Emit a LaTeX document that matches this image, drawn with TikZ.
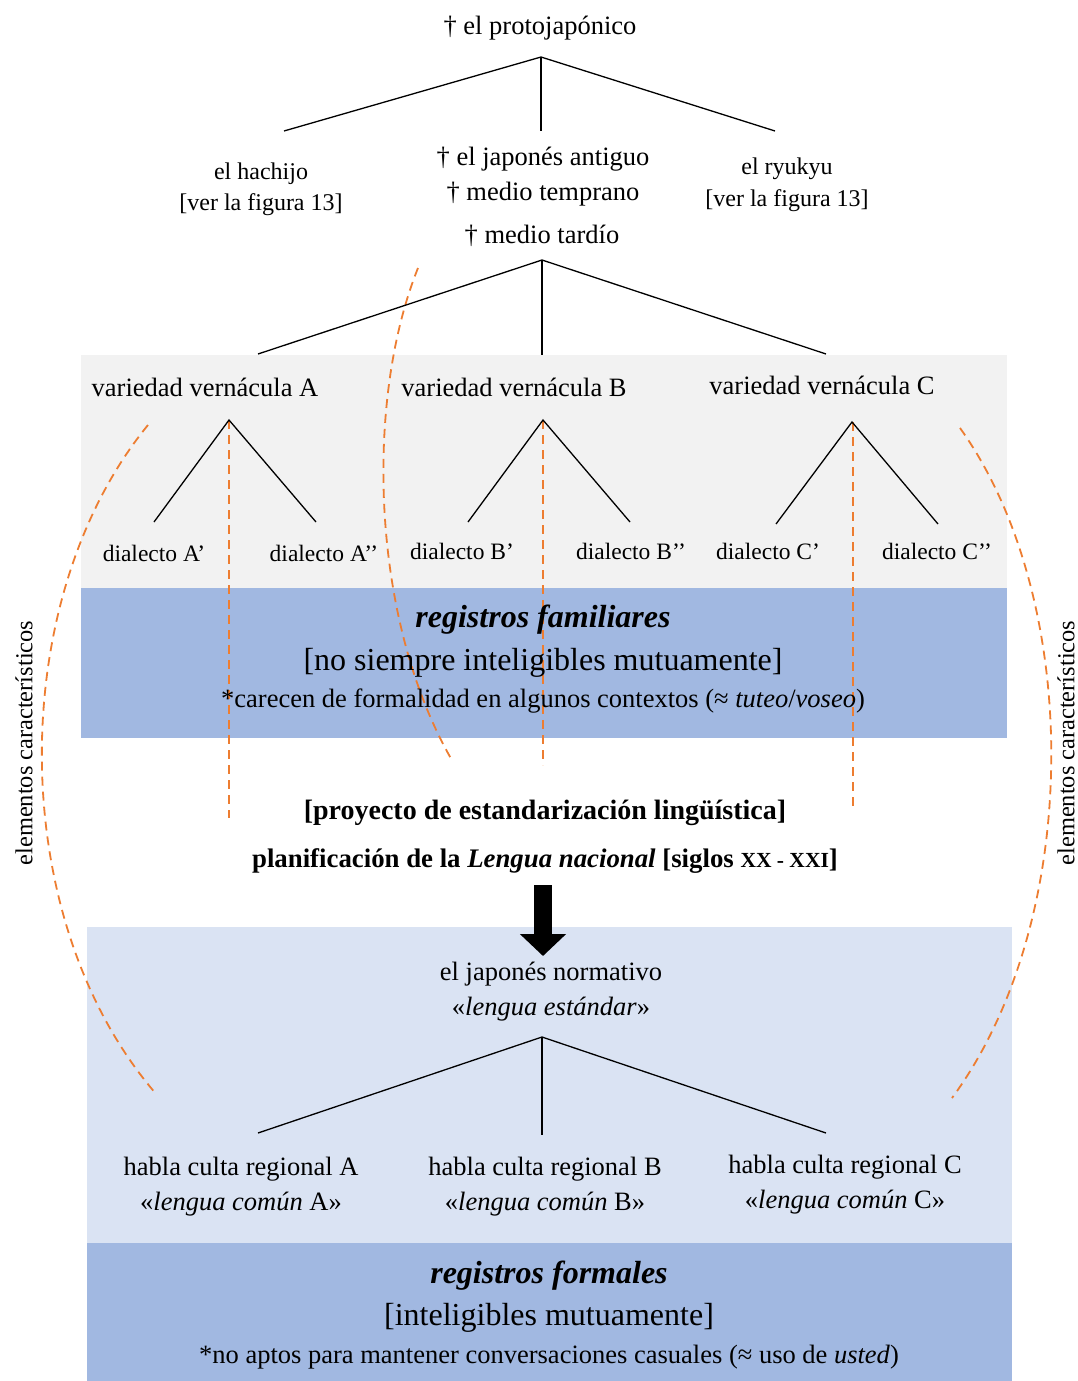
\documentclass[tikz,border=0pt]{standalone}
\usepackage{fontspec}
\setmainfont{Liberation Serif}
\usetikzlibrary{arrows.meta}
\definecolor{graybg}{HTML}{F2F2F2}
\definecolor{bluebg}{HTML}{A1B8E1}
\definecolor{lightbg}{HTML}{DAE3F3}
\definecolor{dashorange}{HTML}{ED7D31}
\begin{document}
\begin{tikzpicture}[x=1pt,y=-1pt,
  txt/.style={anchor=base,inner sep=0pt,font=\fontsize{26.5}{30}\selectfont},
  sm/.style={anchor=base,inner sep=0pt,font=\fontsize{24}{28}\selectfont},
  dia/.style={anchor=base,inner sep=0pt,font=\fontsize{23.5}{28}\selectfont},
  big/.style={anchor=base,inner sep=0pt,font=\fontsize{32}{36}\selectfont},
  bigbi/.style={anchor=base,inner sep=0pt,font=\fontsize{32}{36}\selectfont\bfseries\itshape},
  boldtxt/.style={anchor=base,inner sep=0pt,font=\fontsize{28}{30}\selectfont\bfseries},
  boldplan/.style={anchor=base,inner sep=0pt,font=\fontsize{26.8}{30}\selectfont\bfseries},
  side/.style={anchor=center,inner sep=0pt,rotate=90,font=\fontsize{24.4}{28}\selectfont},
  branch/.style={line width=1.3pt},
  odash/.style={draw=dashorange,line width=1.8pt,dash pattern=on 9pt off 6pt},
]
\useasboundingbox (0,0) rectangle (1078,1381);
% backgrounds
\fill[graybg] (81,355) rectangle (1007,588);
\fill[bluebg] (81,588) rectangle (1007,738);
\fill[lightbg] (87,927) rectangle (1012,1243);
\fill[bluebg] (87,1243) rectangle (1012,1381);

% orange dashed marks
\coordinate (va1) at (229,420); \coordinate (va2) at (229,818);
\coordinate (vb1) at (543,420); \coordinate (vb2) at (543,765);
\coordinate (vc1) at (853,422); \coordinate (vc2) at (853,810);
\draw[odash] (va1) -- (va2);
\draw[odash] (vb1) -- (vb2);
\draw[odash] (vc1) -- (vc2);
\coordinate (m1) at (418,268); \coordinate (m2) at (453,762);
\draw[odash] (m1) .. controls (365,400) and (370,620) .. (m2);
\coordinate (l1) at (148,425); \coordinate (l2) at (157,1095);
\draw[odash] (l1) .. controls (5,600) and (5,920) .. (l2);
\coordinate (r1) at (960,428); \coordinate (r2) at (952,1098);
\draw[odash] (r1) .. controls (1083,600) and (1083,920) .. (r2);

% top tree
\node[txt] (proto) at (540,35) {† el protojapónico};
\coordinate (p0) at (541,57);
\coordinate (p1) at (284,131);
\coordinate (p2) at (541,131);
\coordinate (p3) at (775,131);
\draw[branch] (p1) -- (p0) -- (p3);
\draw[branch] (p0) -- (p2);

\node[sm] (hach) at (261,179) {el hachijo};
\node[sm] (hachref) at (261,210) {[ver la figura 13]};
\node[txt] (jant) at (543,165) {† el japonés antiguo};
\node[txt] (mtemp) at (543,200) {† medio temprano};
\node[txt] (mtard) at (542,243) {† medio tardío};
\node[sm] (ryu) at (787,174) {el ryukyu};
\node[sm] (ryuref) at (787,206) {[ver la figura 13]};

% second tree
\coordinate (q0) at (542,260);
\coordinate (q1) at (258,354);
\coordinate (q2) at (542,355);
\coordinate (q3) at (826,354);
\draw[branch] (q1) -- (q0) -- (q3);
\draw[branch] (q0) -- (q2);

\node[txt] (varA) at (205,396) {variedad vernácula A};
\node[txt] (varB) at (514,396) {variedad vernácula B};
\node[txt] (varC) at (822,394) {variedad vernácula C};

\coordinate (a0) at (229,420); \coordinate (a1) at (154,522); \coordinate (a2) at (316,522);
\coordinate (b0) at (543,420); \coordinate (b1) at (468,522); \coordinate (b2) at (630,522);
\coordinate (c0) at (852,422); \coordinate (c1) at (776,524); \coordinate (c2) at (938,524);
\draw[branch] (a1) -- (a0) -- (a2);
\draw[branch] (b1) -- (b0) -- (b2);
\draw[branch] (c1) -- (c0) -- (c2);

\node[dia] (dA1) at (154,561) {dialecto A’};
\node[dia] (dA2) at (324,561) {dialecto A’’};
\node[dia] (dB1) at (462,559) {dialecto B’};
\node[dia] (dB2) at (631,559) {dialecto B’’};
\node[dia] (dC1) at (768,559) {dialecto C’};
\node[dia] (dC2) at (937,559) {dialecto C’’};

\node[bigbi] (regfam) at (543,627) {registros familiares};
\node[big] (nosiempre) at (543,670) {[no siempre inteligibles mutuamente]};
\node[txt] (carecen) at (543,707) {*carecen de formalidad en algunos contextos (≈ \textit{tuteo}/\textit{voseo})};

\node[boldtxt] (proy) at (545,819) {[proyecto de estandarización lingüística]};
\node[boldplan] (plan) at (545,867) {planificación de la \textit{Lengua nacional} [siglos {\fontsize{21.5}{24}\selectfont XX - XXI}]};

\coordinate (arrtop) at (543,885);
\coordinate (arrtip) at (543,956);
\draw[line width=18pt,-{Triangle[length=22pt 0,width=45pt 0]}] (arrtop) -- (arrtip);

\node[txt] (norm) at (551,980) {el japonés normativo};
\node[txt] (estd) at (551,1015) {«\textit{lengua estándar}»};

\coordinate (s0) at (542,1037);
\coordinate (s1) at (258,1133);
\coordinate (s2) at (542,1135);
\coordinate (s3) at (826,1133);
\draw[branch] (s1) -- (s0) -- (s3);
\draw[branch] (s0) -- (s2);

\node[txt] (hA) at (241,1175) {habla culta regional A};
\node[txt] (cA) at (241,1210) {«\textit{lengua común} A»};
\node[txt] (hB) at (545,1175) {habla culta regional B};
\node[txt] (cB) at (545,1210) {«\textit{lengua común} B»};
\node[txt] (hC) at (845,1173) {habla culta regional C};
\node[txt] (cC) at (845,1208) {«\textit{lengua común} C»};

\node[bigbi] (regfor) at (549,1283) {registros formales};
\node[big] (intel) at (549,1325) {[inteligibles mutuamente]};
\node[txt] (noaptos) at (549,1363) {*no aptos para mantener conversaciones casuales (≈ uso de \textit{usted})};

\node[side] (lside) at (24,743) {elementos característicos};
\node[side] (rside) at (1066,743) {elementos característicos};
\end{tikzpicture}
\end{document}
